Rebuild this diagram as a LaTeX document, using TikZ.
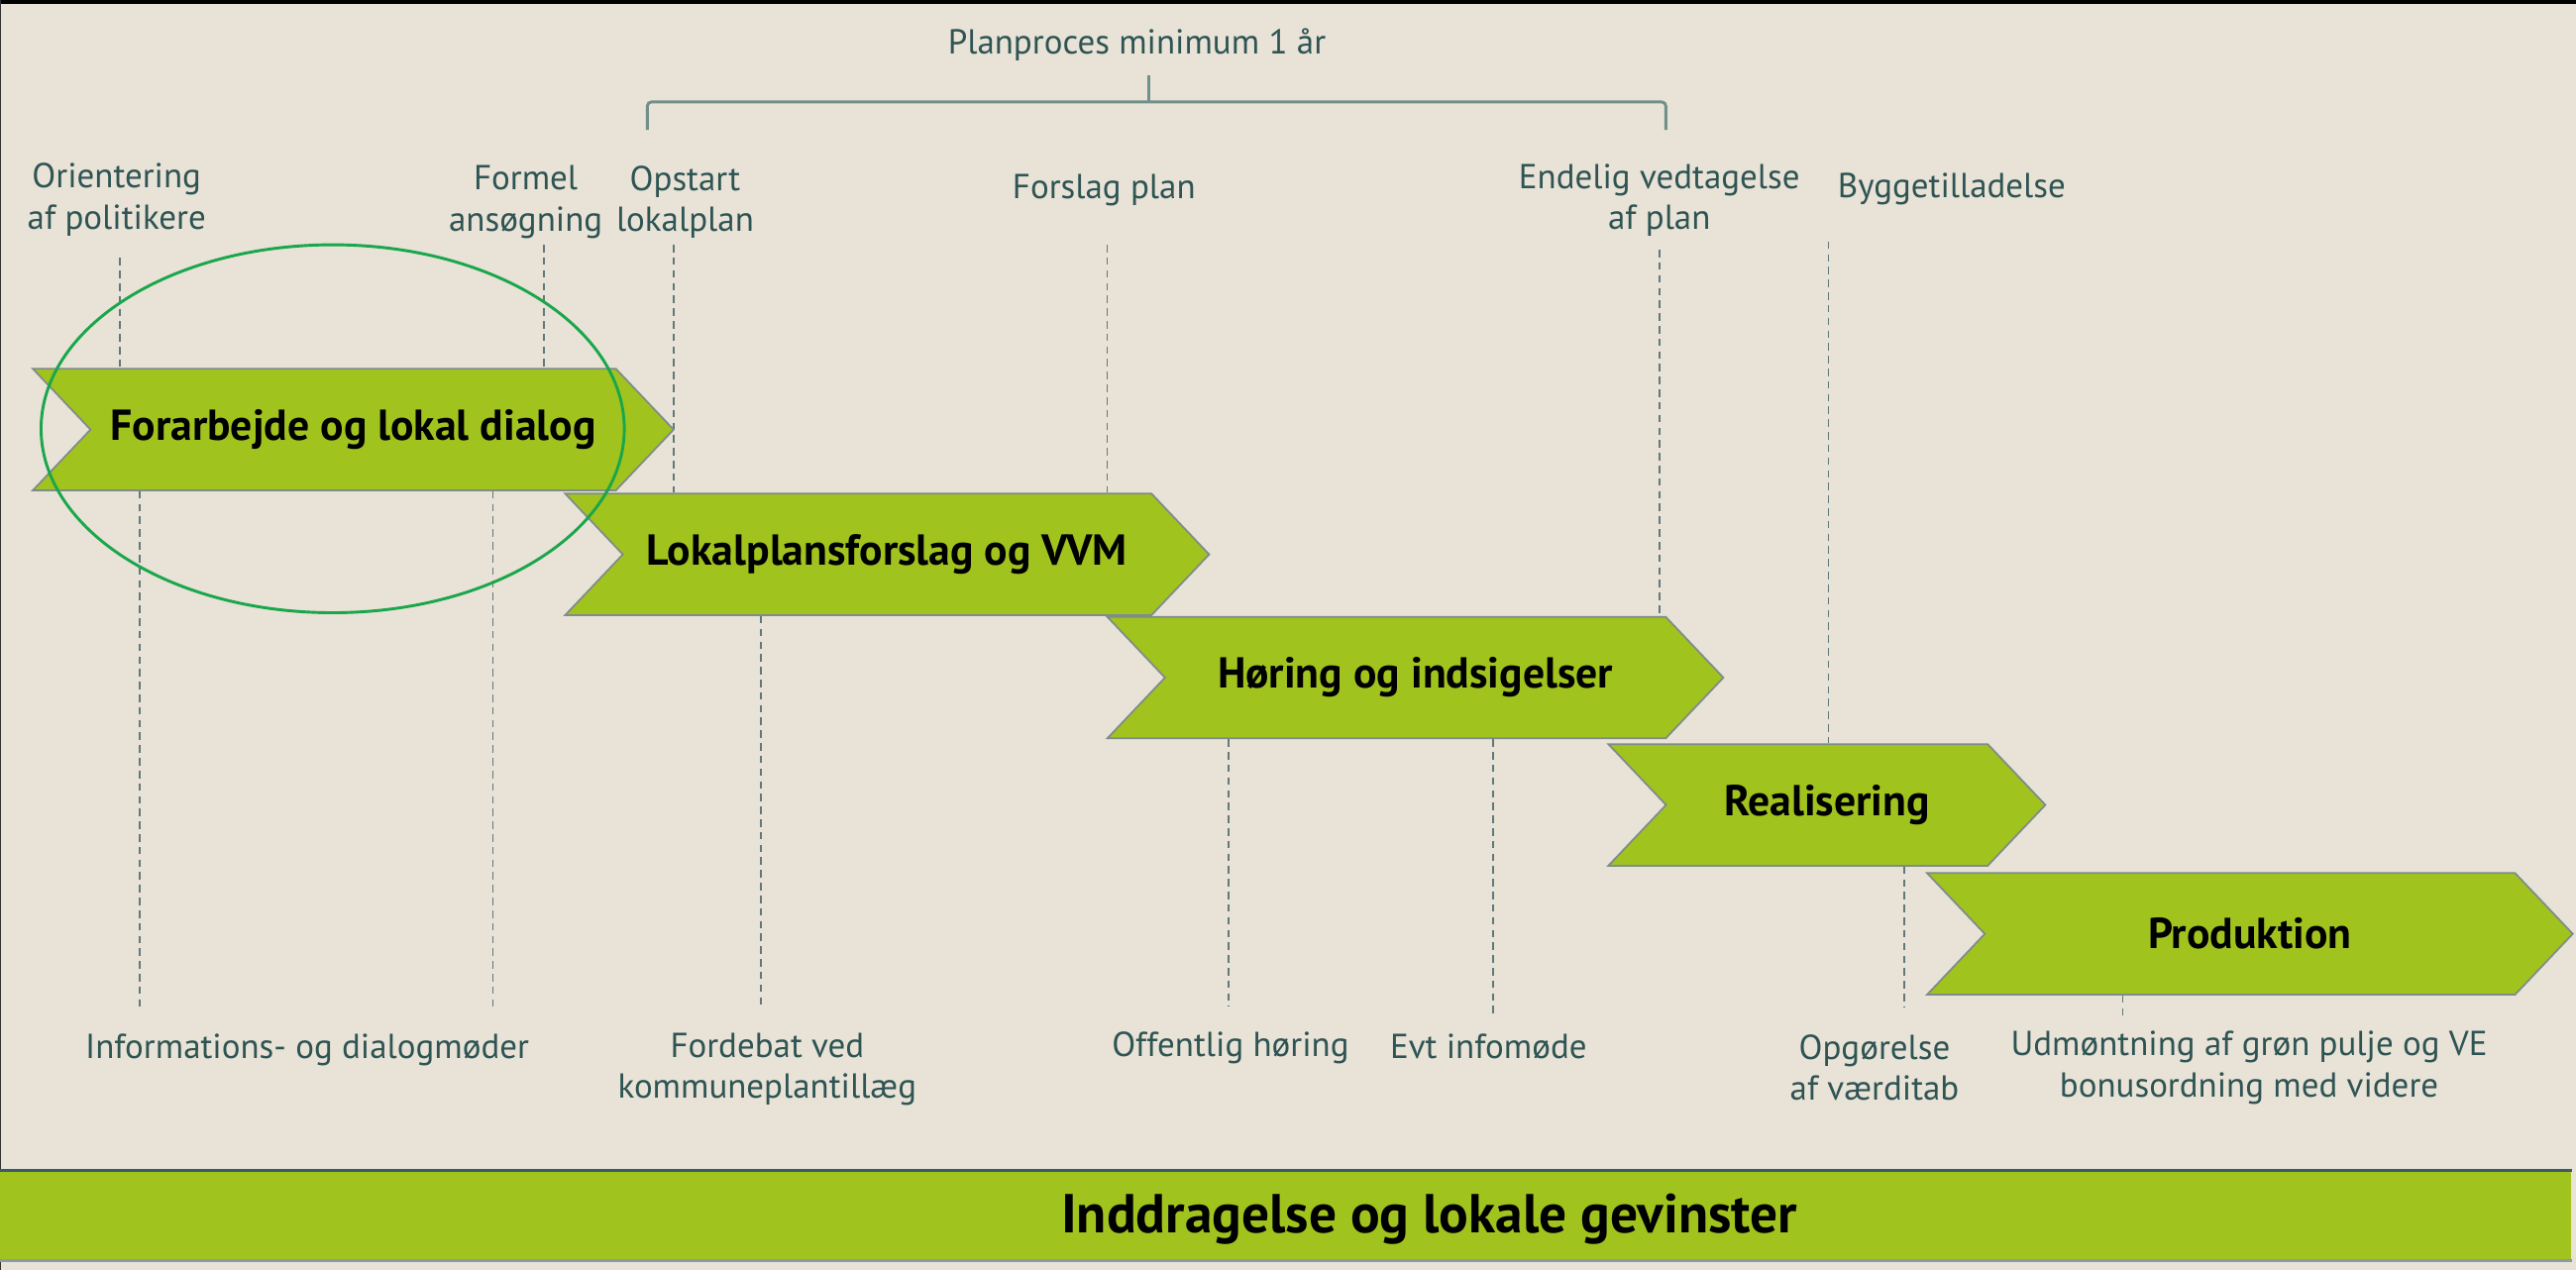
\documentclass[tikz,border=0pt]{standalone}
\usepackage{fontspec}
\setmainfont{PT Sans}
\usepackage{tikz}
\usetikzlibrary{shapes.symbols,shapes.geometric}
\pgfdeclarelayer{back}
\pgfdeclarelayer{bg}
\pgfsetlayers{back,bg,main}
\definecolor{paper}{HTML}{E8E2D7}
\definecolor{leaf}{HTML}{A1C31D}
\definecolor{rim}{HTML}{7E8C8A}
\definecolor{ink}{HTML}{2E5453}
\definecolor{guidegrey}{HTML}{62787A}
\definecolor{bracegrey}{HTML}{71908A}
\definecolor{ringgreen}{HTML}{1AA64B}
\definecolor{bartop}{HTML}{3D5A69}
\definecolor{barbottom}{HTML}{8A9AA6}
\tikzset{
  phase/.style={signal, signal from=west, signal to=east, signal pointer angle=93,
    fill=leaf, draw=rim, line width=0.6pt, minimum height=1.48cm, inner sep=0pt,
    font=\bfseries\fontsize{15}{17}\selectfont},
  tag/.style={align=center, text=ink, inner sep=0pt, font=\fontsize{12}{14.2}\selectfont},
  guide/.style={draw=guidegrey, line width=0.6pt, dash pattern=on 2.6pt off 1.8pt},
  brace/.style={draw=bracegrey, line width=1pt, rounded corners=1.5pt},
}

\begin{document}
\begin{tikzpicture}
        \useasboundingbox (0cm, 0cm) rectangle (31.36cm, -15.46cm);
        \begin{pgfonlayer}{back}
                \fill[paper] (0cm, 0cm) rectangle (31.36cm, -15.46cm);
                \fill[black] (0cm, 0cm) rectangle (31.36cm, -0.05cm);
                \fill[black!80] (0cm, 0cm) rectangle (0.015cm, -15.46cm);
        \end{pgfonlayer}
        \node (c1) [phase, minimum width=7.80cm] at (4.30cm, -5.23cm) {Forarbejde og lokal dialog};
        \node (c2) [phase, minimum width=7.84cm] at (10.80cm, -6.75cm) {Lokalplansforslag og VVM};
        \node (c3) [phase, minimum width=7.50cm] at (17.23cm, -8.25cm) {Høring og indsigelser};
        \node (c4) [phase, minimum width=5.32cm] at (22.24cm, -9.80cm) {Realisering};
        \node (c5) [phase, minimum width=7.86cm] at (27.39cm, -11.37cm) {Produktion};
        \node (ring) [ellipse, draw=ringgreen, line width=1pt, minimum width=7.10cm, minimum height=4.48cm, inner sep=0pt] at (4.05cm, -5.22cm) {};
        \node (plan) [tag] at (13.84cm, -0.54cm) {Planproces minimum 1 år};
        \node (ori) [tag] at (1.42cm, -2.43cm) {Orientering\\af politikere};
        \node (formel) [tag] at (6.40cm, -2.46cm) {Formel\\ansøgning};
        \node (opstart) [tag] at (8.34cm, -2.46cm) {Opstart\\lokalplan};
        \node (forslag) [tag] at (13.44cm, -2.32cm) {Forslag plan};
        \node (endelig) [tag] at (20.20cm, -2.44cm) {Endelig vedtagelse\\af plan};
        \node (bygge) [tag] at (23.76cm, -2.30cm) {Byggetilladelse};
        \node (info) [tag] at (3.74cm, -12.78cm) {Informations- og dialogmøder};
        \node (fordebat) [tag] at (9.34cm, -13.02cm) {Fordebat ved\\kommuneplantillæg};
        \node (hoering) [tag] at (14.98cm, -12.76cm) {Offentlig høring};
        \node (evt) [tag] at (18.12cm, -12.74cm) {Evt infomøde};
        \node (vaerdi) [tag] at (22.82cm, -13.00cm) {Opgørelse\\af værditab};
        \node (pulje) [tag] at (27.38cm, -13.00cm) {Udmøntning af grøn pulje og VE\\bonusordning med videre};
        \node (bar) [fill=leaf, minimum width=31.30cm, minimum height=1.08cm, inner sep=0pt] at (15.65cm, -14.80cm) {};
        \node (goal) [font=\bfseries\fontsize{19}{21}\selectfont] at (17.40cm, -14.84cm) {Inddragelse og lokale gevinster};
        \coordinate (bl) at (7.88cm, -1.58cm);
        \coordinate (br) at (20.28cm, -1.58cm);
        \coordinate (bm) at (13.98cm, -1.24cm);
        \coordinate (bt) at (13.98cm, -0.92cm);
        \coordinate (t1) at (1.46cm, -3.14cm);
        \coordinate (t2) at (6.62cm, -2.98cm);
        \coordinate (t3) at (8.20cm, -2.98cm);
        \coordinate (t4) at (13.48cm, -2.98cm);
        \coordinate (t5) at (20.20cm, -3.04cm);
        \coordinate (t6) at (22.26cm, -2.94cm);
        \coordinate (b1) at (1.70cm, -12.26cm);
        \coordinate (b2) at (6.00cm, -12.26cm);
        \coordinate (b3) at (9.26cm, -12.26cm);
        \coordinate (b4) at (14.96cm, -12.26cm);
        \coordinate (b5) at (18.18cm, -12.38cm);
        \coordinate (b6) at (23.18cm, -12.26cm);
        \coordinate (b7) at (25.84cm, -12.38cm);
        \begin{pgfonlayer}{bg}
                \draw (t1) edge [guide] (t1 |- c1.north);
                \draw (t2) edge [guide] (t2 |- c1.north);
                \draw (t3) edge [guide] (t3 |- c2.north);
                \draw (t4) edge [guide] (t4 |- c2.north);
                \draw (t5) edge [guide] (t5 |- c3.north);
                \draw (t6) edge [guide] (t6 |- c4.north);
                \draw (b1 |- c1.south) edge [guide] (b1);
                \draw (b2 |- c1.south) edge [guide] (b2);
                \draw (b3 |- c2.south) edge [guide] (b3);
                \draw (b4 |- c3.south) edge [guide] (b4);
                \draw (b5 |- c3.south) edge [guide] (b5);
                \draw (b6 |- c4.south) edge [guide] (b6);
                \draw (b7 |- c5.south) edge [guide] (b7);
                \draw [brace] (bl) -- (bl |- bm) -- (br |- bm) -- (br);
                \draw [brace] (bm) -- (bt);
        \end{pgfonlayer}
        \draw [bartop, line width=1.2pt] (bar.north west) -- (bar.north east);
        \draw [barbottom, line width=1pt] (bar.south west) -- (bar.south east);
\end{tikzpicture}
\end{document}
